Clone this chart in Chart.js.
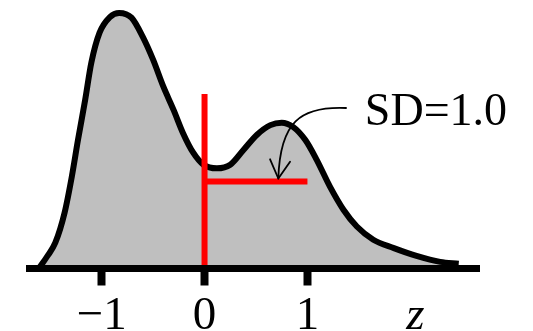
<!DOCTYPE html>
<html>
<head>
<meta charset="utf-8">
<script src="https://cdn.jsdelivr.net/npm/chart.js@4/dist/chart.umd.min.js"></script>
<style>
  html, body { margin: 0; padding: 0; background: #fff; overflow: hidden; }
  canvas { display: block; }
</style>
</head>
<body>
<canvas id="c" width="533" height="331"></canvas>
<script>
// Standardised score axis and the estimated density at each point
const zValues = [-1.61, -1.53, -1.45, -1.36, -1.29, -1.23, -1.16, -1.10, -1.02, -0.92, -0.83,
                 -0.71, -0.60, -0.50, -0.40, -0.30, -0.21, -0.11, -0.01, 0.12, 0.25, 0.38,
                 0.51, 0.64, 0.75, 0.86, 0.98, 1.09, 1.22, 1.35, 1.48, 1.64, 1.84, 2.06,
                 2.29, 2.47];
const density = [0.000, 0.020, 0.043, 0.093, 0.153, 0.214, 0.281, 0.343, 0.393, 0.419, 0.426,
                 0.418, 0.386, 0.348, 0.303, 0.264, 0.226, 0.193, 0.173, 0.167, 0.173, 0.198,
                 0.223, 0.239, 0.243, 0.236, 0.214, 0.181, 0.136, 0.098, 0.070, 0.048, 0.034,
                 0.021, 0.011, 0.008];

// Axis ticks; the last one carries the variable name
const tickValues = [-1, 0, 1, 2.05];
const tickLabels = ['\u22121', '0', '1', 'z'];

// Mean marker and one-SD span
const meanLine = [[0, 0], [0, 0.291]];
const sdLine = [[0, 0.145], [1, 0.145]];

// Callout text and its arrow (data units)
const sdLabel = 'SD=1.0';
const sdLabelAt = [1.558, 0.239];
const arrowPath = [[1.375, 0.2675], [0.928, 0.2708], [0.734, 0.2442], [0.717, 0.150]];
const arrowHead = [[0.637, 0.182], [0.717, 0.150], [0.831, 0.178]];

const toXY = pairs => pairs.map(([x, y]) => ({ x, y }));
const curve = zValues.map((z, i) => ({ x: z, y: density[i] }));

const serif = '"Liberation Serif", "Times New Roman", serif';

const sdAnnotation = {
  id: 'sdAnnotation',
  afterDraw(chart) {
    const { ctx, scales: { x, y } } = chart;
    const px = p => [x.getPixelForValue(p[0]), y.getPixelForValue(p[1])];
    ctx.save();
    ctx.strokeStyle = '#000';
    ctx.lineWidth = 1.8;
    ctx.lineCap = 'round';
    ctx.lineJoin = 'round';
    const [s, c1, c2, e] = arrowPath.map(px);
    ctx.beginPath();
    ctx.moveTo(s[0], s[1]);
    ctx.bezierCurveTo(c1[0], c1[1], c2[0], c2[1], e[0], e[1]);
    ctx.stroke();
    const h = arrowHead.map(px);
    ctx.beginPath();
    ctx.moveTo(h[0][0], h[0][1]);
    ctx.lineTo(h[1][0], h[1][1]);
    ctx.lineTo(h[2][0], h[2][1]);
    ctx.stroke();
    ctx.font = '46px ' + serif;
    ctx.fillStyle = '#000';
    ctx.textAlign = 'left';
    ctx.textBaseline = 'alphabetic';
    const [tx, ty] = px(sdLabelAt);
    ctx.fillText(sdLabel, tx, ty);
    ctx.restore();
  }
};

new Chart(document.getElementById('c'), {
  type: 'scatter',
  data: {
    datasets: [
      {
        data: toXY(meanLine),
        showLine: true,
        borderColor: '#ff0000',
        borderWidth: 6,
        pointRadius: 0,
        fill: false
      },
      {
        data: toXY(sdLine),
        showLine: true,
        borderColor: '#ff0000',
        borderWidth: 6,
        pointRadius: 0,
        fill: false
      },
      {
        data: curve,
        showLine: true,
        borderColor: '#000',
        borderWidth: 6,
        backgroundColor: '#bfbfbf',
        fill: 'origin',
        cubicInterpolationMode: 'monotone',
        pointRadius: 0
      }
    ]
  },
  options: {
    responsive: false,
    devicePixelRatio: 1,
    animation: false,
    layout: { padding: { left: 29.5, right: 53.5, top: 0, bottom: 0 } },
    plugins: { legend: { display: false }, tooltip: { enabled: false } },
    scales: {
      x: {
        type: 'linear',
        min: -1.701,
        max: 2.672,
        afterBuildTicks: s => { s.ticks = tickValues.map(v => ({ value: v })); },
        afterFit: s => { s.height = 62.5; },
        border: { display: true, color: '#000', width: 7, z: 1 },
        grid: {
          drawOnChartArea: false,
          drawTicks: true,
          tickLength: 17,
          tickWidth: 8,
          lineWidth: 1,
          tickColor: ctx => (ctx.index === 3 ? 'rgba(0,0,0,0)' : '#000')
        },
        ticks: {
          autoSkip: false,
          maxRotation: 0,
          padding: 3,
          color: '#000',
          font: ctx => ({ family: serif, size: 47, style: ctx.index === 3 ? 'italic' : 'normal' }),
          callback: (value, index) => tickLabels[index]
        }
      },
      y: {
        display: false,
        min: 0,
        max: 0.4475
      }
    }
  },
  plugins: [sdAnnotation]
});
</script>
</body>
</html>
